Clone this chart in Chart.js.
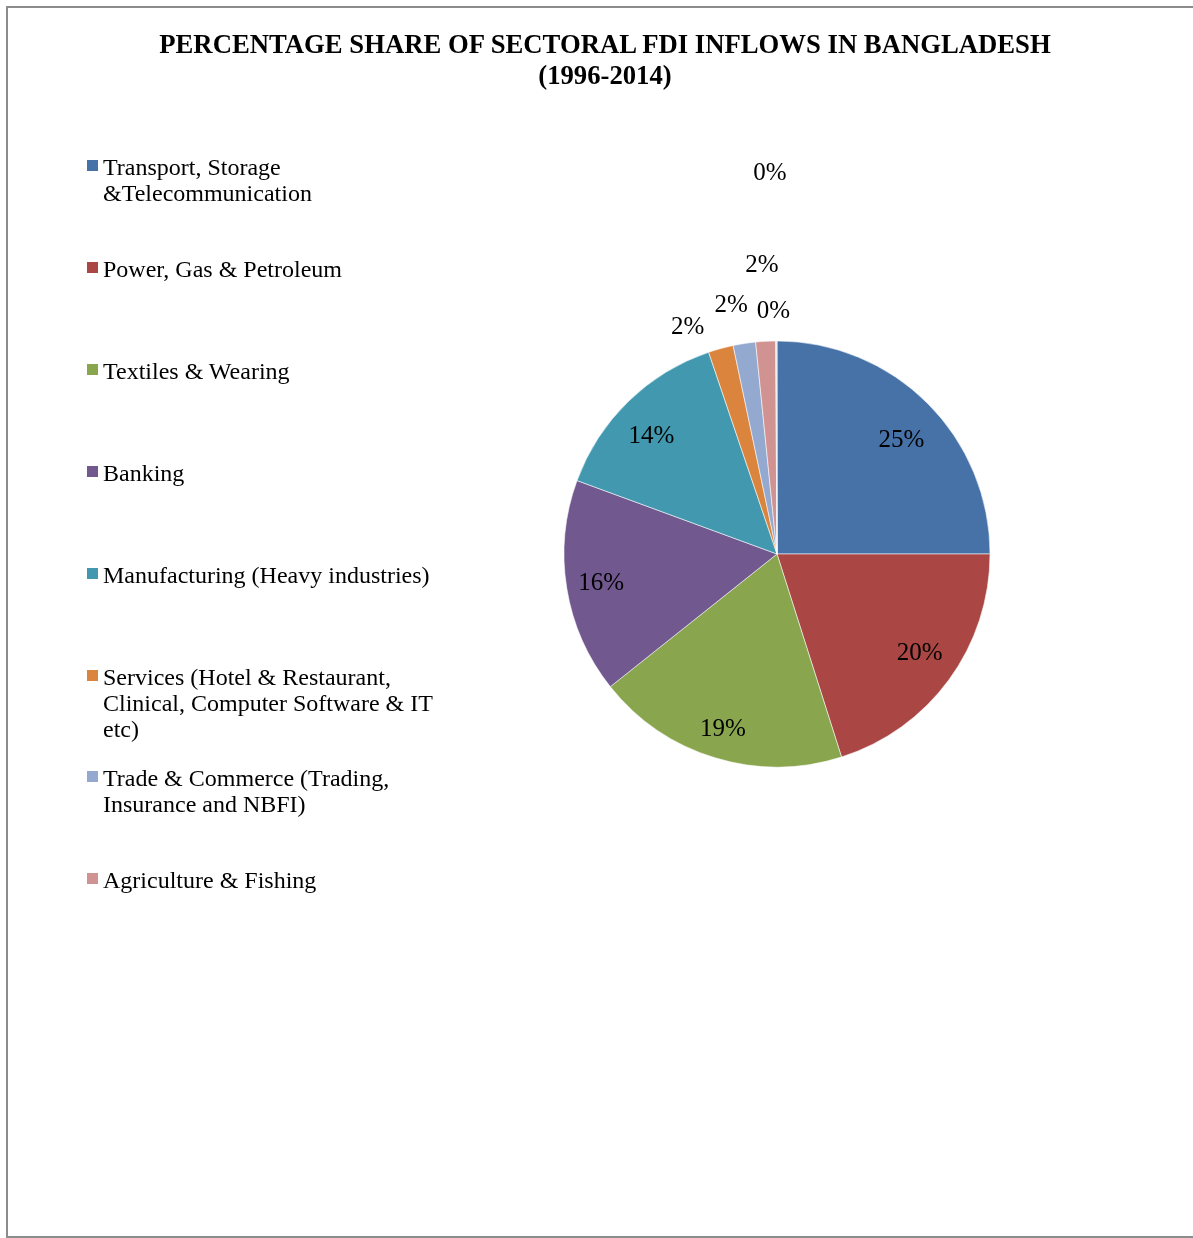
<!DOCTYPE html>
<html>
<head>
<meta charset="utf-8">
<title>Sectoral FDI inflows in Bangladesh</title>
<script src="https://cdn.jsdelivr.net/npm/chart.js@4.4.1/dist/chart.umd.min.js"></script>
<style>
  html, body { margin: 0; padding: 0; background: #fff; overflow: hidden; }
  #frame {
    position: absolute; left: 6px; top: 6px; width: 1220px; height: 1228px;
    border: 2px solid #8c8c8c;
  }
  #pie { position: absolute; left: 0; top: 0; }
  #title {
    position: absolute; left: 0; top: 29px; width: 1210px; text-align: center;
    font-family: "Liberation Serif", "Times New Roman", serif; font-weight: bold;
    font-size: 26.7px; line-height: 31px; color: #000;
  }
  #legend { position: absolute; left: 0; top: 0; font-family: "Liberation Serif", "Times New Roman", serif; font-size: 24px; color: #000; }
  .item { position: absolute; left: 86px; width: 356px; line-height: 26px; }
  .swatch { position: absolute; left: 1px; top: 6px; width: 11px; height: 11px; }
  .text { margin-left: 17px; }
</style>
</head>
<body>
<div id="frame"></div>
<canvas id="pie" width="1210" height="1238"></canvas>
<div id="title">PERCENTAGE SHARE OF SECTORAL FDI INFLOWS IN BANGLADESH<br>(1996-2014)</div>
<div id="legend"></div>

<script>
// sectors, shares of total FDI inflow (%), 1996-2014
const sectors = [
  "Transport, Storage &Telecommunication",
  "Power, Gas & Petroleum",
  "Textiles & Wearing",
  "Banking",
  "Manufacturing (Heavy industries)",
  "Services (Hotel & Restaurant, Clinical, Computer Software & IT etc)",
  "Trade & Commerce (Trading, Insurance and NBFI)",
  "Agriculture & Fishing",
  "Others",
  "Unclassified"
];
const shares = [25.0, 20.1, 19.2, 16.3, 14.2, 1.9, 1.7, 1.5, 0.07, 0.03];
const sliceColors = [
  "#4672a8", "#aa4644", "#89a54e", "#71588f", "#4198af",
  "#db843d", "#93a9cf", "#d19392", "#b9cd96", "#a99bbd"
];
// only the first eight sectors fit in the legend column
const legendCount = 8;

// where each percentage sits: fraction of the radius and a small angular nudge (deg)
const labelPlacement = [
  { dist: 0.80, shift: 1.9 },
  { dist: 0.81, shift: -2.0 },
  { dist: 0.85, shift: 0.5 },
  { dist: 0.835, shift: 0.5 },
  { dist: 0.815, shift: -2.1 },
  { dist: 1.156, shift: -6.0 },
  { dist: 1.20, shift: -1.5 },
  { dist: 1.37, shift: 0.1 },
  { dist: 1.152, shift: -0.6 },
  { dist: 1.80, shift: -1.0 }
];
const labelDrop = 2.5;

const sliceLabels = {
  id: "sliceLabels",
  afterDatasetsDraw(chart) {
    const ctx = chart.ctx;
    const values = chart.data.datasets[0].data;
    const total = values.reduce((a, b) => a + b, 0);
    chart.getDatasetMeta(0).data.forEach((arc, i) => {
      const p = arc.getProps(["x", "y", "startAngle", "endAngle", "outerRadius"], true);
      const place = labelPlacement[i];
      const a = (p.startAngle + p.endAngle) / 2 + place.shift * Math.PI / 180;
      const r = p.outerRadius * place.dist;
      ctx.save();
      ctx.font = '25px "Liberation Serif", "Times New Roman", serif';
      ctx.fillStyle = "#000";
      ctx.textAlign = "center";
      ctx.textBaseline = "middle";
      ctx.fillText(Math.round(values[i] / total * 100) + "%",
        p.x + Math.cos(a) * r, p.y + Math.sin(a) * r + labelDrop);
      ctx.restore();
    });
  }
};

const chart = new Chart(document.getElementById("pie"), {
  type: "pie",
  data: {
    labels: sectors,
    datasets: [{
      data: shares,
      backgroundColor: sliceColors,
      borderColor: "rgba(255,255,255,0.55)",
      borderWidth: 1
    }]
  },
  options: {
    responsive: false,
    animation: false,
    layout: { padding: { left: 563.5, right: 219.5, top: 340.5, bottom: 470.5 } },
    plugins: {
      legend: { display: false },
      tooltip: { enabled: false },
      title: { display: false }
    }
  },
  plugins: [sliceLabels]
});

// legend column built from the chart's own labels and colours
const legendBox = document.getElementById("legend");
chart.data.labels.slice(0, legendCount).forEach((name, i) => {
  const item = document.createElement("div");
  item.className = "item";
  item.style.top = (154 + i * 101.9) + "px";
  const sw = document.createElement("span");
  sw.className = "swatch";
  sw.style.background = chart.data.datasets[0].backgroundColor[i];
  const tx = document.createElement("div");
  tx.className = "text";
  tx.textContent = name;
  item.appendChild(sw);
  item.appendChild(tx);
  legendBox.appendChild(item);
});
</script>
</body>
</html>
